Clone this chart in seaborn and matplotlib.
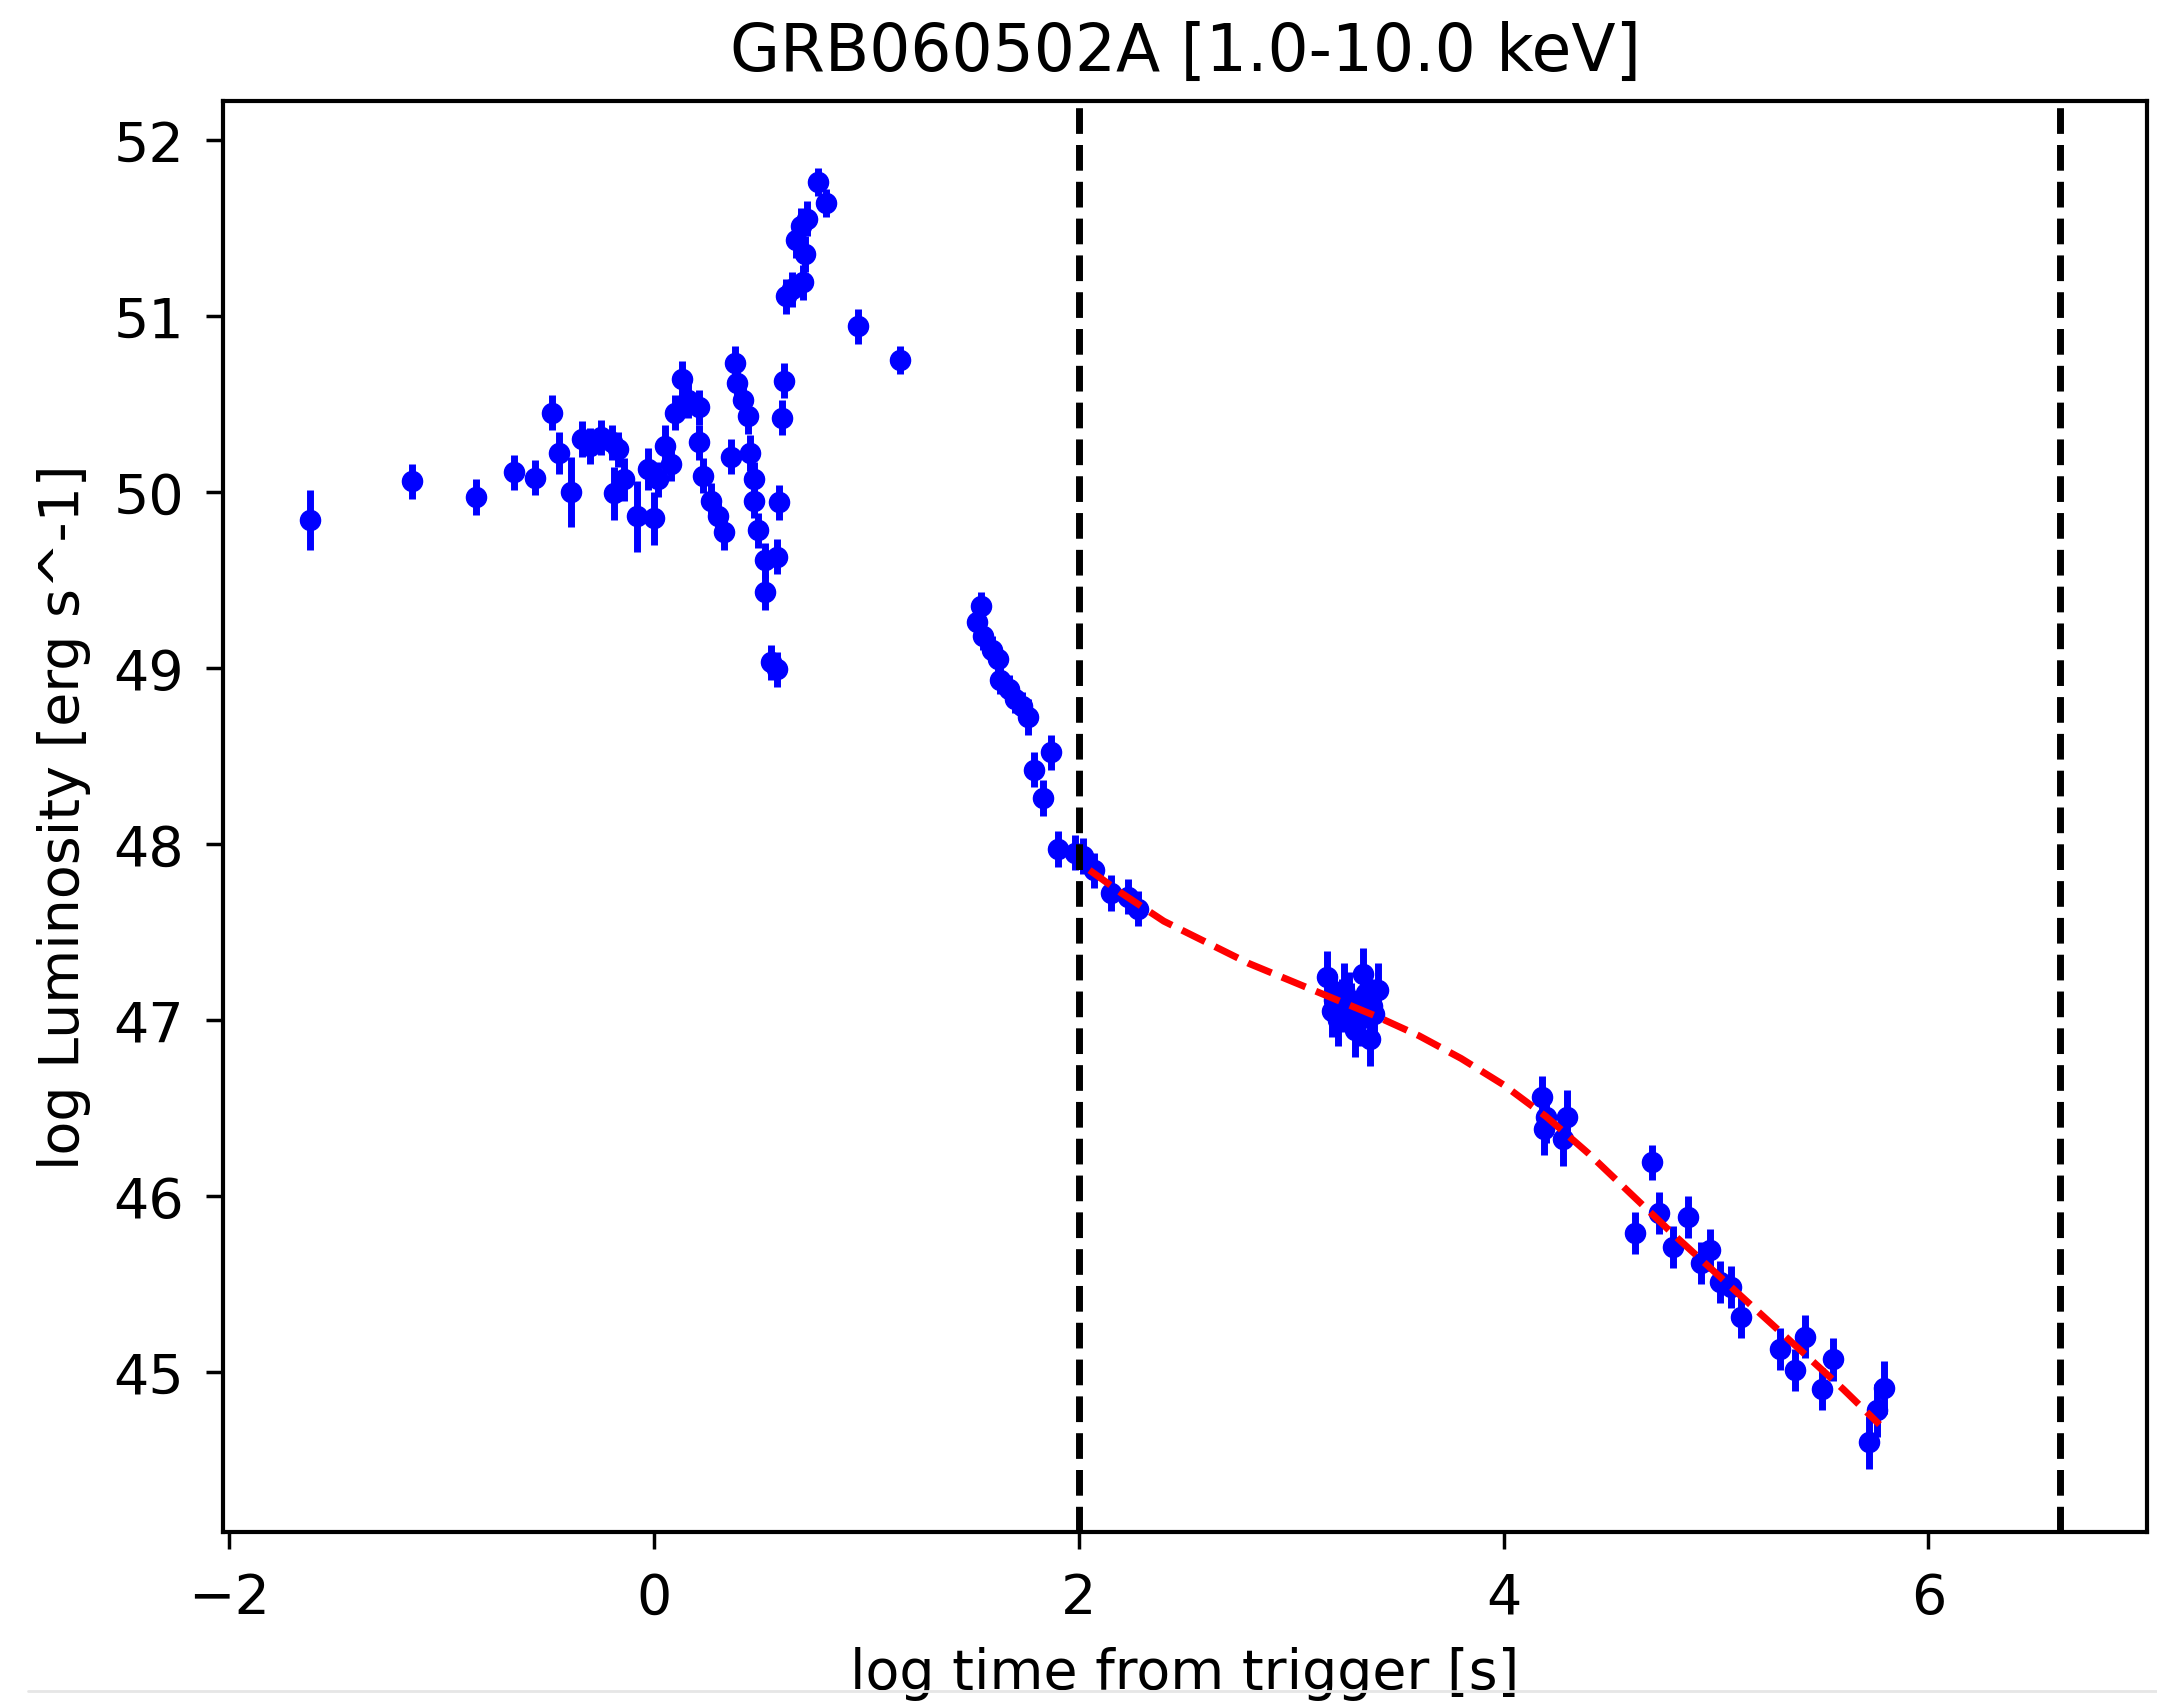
import numpy as np
import pandas as pd
import matplotlib
matplotlib.use("Agg")
import matplotlib.pyplot as plt
from matplotlib.lines import Line2D
import seaborn as sns

# ---------------- data ----------------
title = "GRB060502A [1.0-10.0 keV]"
x_label = "log time from trigger [s]"
y_label = "log Luminosity [erg s^-1]"

log_t = [
    -1.62, -1.14, -0.84, -0.66, -0.56, -0.48, -0.45, -0.39, -0.34, -0.30,
    -0.25, -0.20, -0.17, -0.19, -0.14, -0.08, -0.03, 0.00, 0.02, 0.05,
    0.08, 0.10, 0.13, 0.16, 0.21, 0.21, 0.23, 0.27, 0.30, 0.33,
    0.36, 0.38, 0.39, 0.42, 0.44, 0.45, 0.47, 0.47, 0.49, 0.52,
    0.52, 0.55, 0.58, 0.58, 0.59, 0.60, 0.61, 0.62, 0.65, 0.67,
    0.69, 0.70, 0.71, 0.72, 0.77, 0.81, 0.96, 1.16,
    1.54, 1.52, 1.55, 1.59, 1.62, 1.63, 1.67, 1.70, 1.73, 1.76,
    1.87, 1.79, 1.83, 1.90, 1.98, 2.02, 2.07, 2.15, 2.23, 2.28,
    3.17, 3.20, 3.22, 3.25, 3.28, 3.30, 3.34, 3.36, 3.37, 3.39, 3.41,
    3.19, 3.24, 3.27, 3.32, 3.35, 3.38,
    4.18, 4.19, 4.30, 4.28, 4.20,
    4.70, 4.62, 4.73, 4.80, 4.87, 4.93, 4.97, 5.02, 5.07, 5.12,
    5.30, 5.37, 5.42, 5.50, 5.55, 5.72, 5.76, 5.79,
]
log_lum = [
    49.84, 50.06, 49.97, 50.11, 50.08, 50.45, 50.22, 50.00, 50.30, 50.26,
    50.31, 50.28, 50.24, 49.99, 50.07, 49.86, 50.13, 49.85, 50.07, 50.26,
    50.16, 50.45, 50.64, 50.52, 50.48, 50.28, 50.09, 49.95, 49.86, 49.77,
    50.20, 50.73, 50.62, 50.52, 50.43, 50.22, 50.07, 49.95, 49.78, 49.61,
    49.43, 49.03, 48.99, 49.63, 49.94, 50.42, 50.63, 51.11, 51.15, 51.43,
    51.51, 51.19, 51.35, 51.55, 51.76, 51.64, 50.94, 50.75,
    49.35, 49.26, 49.18, 49.10, 49.05, 48.93, 48.88, 48.82, 48.78, 48.72,
    48.52, 48.42, 48.26, 47.97, 47.95, 47.93, 47.85, 47.72, 47.70, 47.63,
    47.24, 47.11, 47.00, 47.17, 47.06, 46.94, 47.26, 47.11, 46.89, 47.03, 47.17,
    47.05, 47.08, 47.12, 47.00, 47.15, 47.08,
    46.56, 46.38, 46.45, 46.32, 46.45,
    46.19, 45.79, 45.90, 45.71, 45.88, 45.62, 45.69, 45.51, 45.48, 45.31,
    45.13, 45.01, 45.20, 44.90, 45.07, 44.60, 44.78, 44.91,
]
log_lum_err = [
    0.17, 0.10, 0.10, 0.10, 0.10, 0.10, 0.12, 0.20, 0.10, 0.10,
    0.10, 0.10, 0.10, 0.15, 0.12, 0.20, 0.12, 0.15, 0.10, 0.12,
    0.10, 0.10, 0.10, 0.10, 0.10, 0.10, 0.10, 0.10, 0.10, 0.10,
    0.10, 0.10, 0.10, 0.10, 0.10, 0.10, 0.10, 0.10, 0.10, 0.10,
    0.10, 0.10, 0.10, 0.10, 0.10, 0.10, 0.10, 0.10, 0.10, 0.10,
    0.10, 0.10, 0.10, 0.10, 0.08, 0.08, 0.10, 0.08,
    0.08, 0.08, 0.08, 0.08, 0.08, 0.08, 0.08, 0.08, 0.08, 0.10,
    0.10, 0.10, 0.10, 0.10, 0.10, 0.10, 0.10, 0.10, 0.10, 0.10,
    0.15, 0.15, 0.15, 0.15, 0.15, 0.15, 0.15, 0.15, 0.15, 0.15, 0.15,
    0.15, 0.15, 0.15, 0.15, 0.15, 0.15,
    0.12, 0.15, 0.15, 0.15, 0.15,
    0.10, 0.12, 0.12, 0.12, 0.12, 0.12, 0.12, 0.12, 0.12, 0.12,
    0.12, 0.12, 0.12, 0.12, 0.12, 0.15, 0.15, 0.15,
]
log_t_err = [0.03] * len(log_t)

fit_t = [2.05, 2.20, 2.40, 2.60, 2.80, 3.00, 3.20, 3.40, 3.60, 3.80,
         4.00, 4.20, 4.40, 4.60, 4.80, 5.00, 5.20, 5.40, 5.60, 5.77]
fit_lum = [47.85, 47.72, 47.56, 47.44, 47.32, 47.22, 47.12, 47.02, 46.91, 46.78,
           46.63, 46.45, 46.24, 46.01, 45.78, 45.56, 45.34, 45.12, 44.90, 44.70]

vline_t = [2.0, 6.62]

x_ticks = [-2, 0, 2, 4, 6]
y_ticks = [45, 46, 47, 48, 49, 50, 51, 52]

# ---------------- plotting ----------------
sns.set_style("white")
plt.rcParams["font.family"] = ["DejaVu Sans"]
plt.rcParams["axes.edgecolor"] = "black"
plt.rcParams["text.color"] = "black"
plt.rcParams["axes.labelcolor"] = "black"
plt.rcParams["xtick.color"] = "black"
plt.rcParams["ytick.color"] = "black"

points = pd.DataFrame({"t": log_t, "lum": log_lum})
fit = pd.DataFrame({"t": fit_t, "lum": fit_lum})

fig = plt.figure(figsize=(21.57, 17.08), dpi=100)
ax = fig.add_axes([0.1034, 0.1025, 0.8920, 0.8378])

ax.errorbar(log_t, log_lum, yerr=log_lum_err, xerr=log_t_err, fmt="none",
            ecolor="blue", elinewidth=5, capsize=0, zorder=2)
sns.scatterplot(data=points, x="t", y="lum", ax=ax, color="blue", s=210,
                edgecolor="blue", linewidth=1, marker="o", zorder=3, legend=False)
sns.lineplot(data=fit, x="t", y="lum", ax=ax, color="red", lw=5,
             linestyle="--", zorder=4, legend=False)
for v in vline_t:
    ax.axvline(v, color="black", lw=5, linestyle="--", zorder=5)

ax.set_xlim(-2.03, 7.03)
ax.set_ylim(44.09, 52.22)
ax.set_xticks(x_ticks)
ax.set_yticks(y_ticks)
ax.set_xticklabels([f"{v}".replace("-", "\u2212") for v in x_ticks])
ax.set_yticklabels([str(v) for v in y_ticks])
ax.tick_params(axis="both", labelsize=40, length=12, width=2.5, pad=16,
               direction="out", colors="black", bottom=True, left=True)
for s in ax.spines.values():
    s.set_linewidth(3)
    s.set_color("black")
    s.set_visible(True)

ax.set_title(title, fontsize=46.5, pad=22, color="black")
ax.set_xlabel(x_label, fontsize=40, labelpad=15, color="black")
ax.set_ylabel(y_label, fontsize=40, labelpad=16, color="black")

fig.add_artist(Line2D([0.013, 1.0], [0.0094, 0.0094], transform=fig.transFigure,
                      color="#e6e6e6", lw=2))

fig.savefig("out.png", dpi=100, facecolor="white")
